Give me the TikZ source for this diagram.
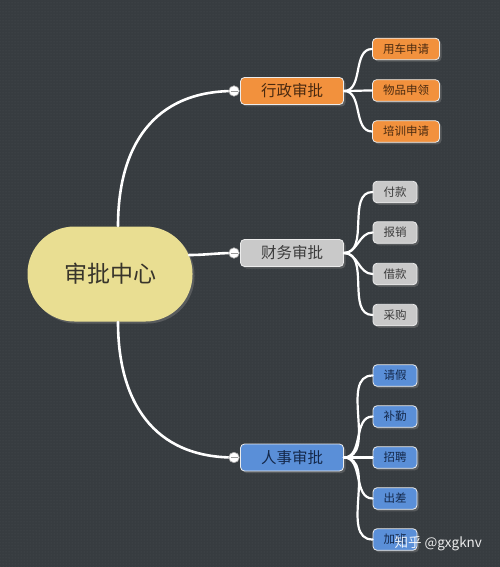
\documentclass[tikz,border=0pt]{standalone}
\usepackage{fontspec}
\setmainfont{Noto Sans CJK SC}
\usetikzlibrary{shadows,patterns}
\definecolor{bgc}{HTML}{373C40}
\definecolor{dotc}{HTML}{4A4F54}
\definecolor{orangec}{HTML}{F2913D}
\definecolor{greyc}{HTML}{C9C9C9}
\definecolor{bluec}{HTML}{5A8FD8}
\definecolor{centerc}{HTML}{E9DE92}
\definecolor{otext}{HTML}{4A2A10}
\definecolor{gtext}{HTML}{3C3C3C}
\definecolor{btext}{HTML}{14284A}
\tikzset{
  base/.style={draw=white!85!gray, line width=0.8pt, inner sep=0pt, align=center,
    drop shadow={opacity=0.45, shadow xshift=2pt, shadow yshift=-2pt}},
  centerbox/.style={base, draw=none, fill=centerc, minimum width=165pt, minimum height=95pt,
    rounded corners=47pt, font=\fontsize{23}{23}\selectfont, text=black!80!olive},
  branch/.style={base, minimum width=103pt, minimum height=27pt, rounded corners=4pt,
    font=\fontsize{15.5}{16}\selectfont},
  obranch/.style={branch, fill=orangec, text=otext},
  gbranch/.style={branch, fill=greyc, text=gtext},
  bbranch/.style={branch, fill=bluec, text=btext},
  leaf/.style={base, minimum height=21.5pt, rounded corners=4pt, font=\fontsize{11.5}{12}\selectfont},
  oleaf/.style={leaf, fill=orangec, text=otext, minimum width=67pt},
  gleaf/.style={leaf, fill=greyc, text=gtext, minimum width=44pt},
  bleaf/.style={leaf, fill=bluec, text=btext, minimum width=44pt},
  knob/.style={circle, fill=white, draw=gray!70, line width=0.6pt, minimum size=10.5pt, inner sep=0pt,
    path picture={\draw[gray!80, line width=0.8pt] ([xshift=-3.5pt]path picture bounding box.center) -- ([xshift=3.5pt]path picture bounding box.center);}},
  conn/.style={draw=white, line width=2.6pt, line cap=round},
  lconn/.style={draw=white, line width=2.2pt, line cap=round},
}
\begin{document}
\begin{tikzpicture}[x=1pt,y=-1pt]
\fill[bgc] (0,0) rectangle (500,567);
\fill[pattern=dots, pattern color=dotc] (0,0) rectangle (500,567);
\useasboundingbox (0,0) rectangle (500,567);

\node[centerbox] (c) at (110,274) {审批中心};
\node[obranch] (b1) at (292,91) {行政审批};
\node[gbranch] (b2) at (292,253) {财务审批};
\node[bbranch] (b3) at (292,457.5) {人事审批};
\coordinate (k1) at (234,91);
\coordinate (k2) at (234,253);
\coordinate (k3) at (234,457.5);

% leaves
\node[oleaf] (l11) at (406,49) {用车申请};
\node[oleaf] (l12) at (406,90.5) {物品申领};
\node[oleaf] (l13) at (406,131.5) {培训申请};
\node[gleaf] (l21) at (395,192) {付款};
\node[gleaf] (l22) at (395,232.5) {报销};
\node[gleaf] (l23) at (395,274) {借款};
\node[gleaf] (l24) at (395,315) {采购};
\node[bleaf] (l31) at (395,375.5) {请假};
\node[bleaf] (l32) at (395,416.5) {补勤};
\node[bleaf] (l33) at (395,457.5) {招聘};
\node[bleaf] (l34) at (395,498.5) {出差};
\node[bleaf] (l35) at (395,539.5) {加班};

% connectors
\draw[conn] ([xshift=8pt]c.north) to[out=90,in=180,looseness=1.15] (k1);
\draw[conn] ([yshift=19pt,xshift=-4pt]c.east) to[out=0,in=180] (k2);
\draw[conn] ([xshift=8pt]c.south) to[out=-90,in=180,looseness=1.15] (k3);
\node[knob] (n1) at (k1) {};
\node[knob] (n2) at (k2) {};
\node[knob] (n3) at (k3) {};

\foreach \l in {l11,l12,l13} \draw[lconn] (b1.east) to[out=0,in=180] (\l.west);
\foreach \l in {l21,l22,l23,l24} \draw[lconn] (b2.east) to[out=0,in=180] (\l.west);
\foreach \l in {l31,l32,l33,l34,l35} \draw[lconn] (b3.east) to[out=0,in=180] (\l.west);

% watermark
\node[text=white, opacity=0.9, font=\fontsize{13.5}{14}\selectfont, anchor=west] (wm) at (391,544) {知乎 @gxgknv};
\end{tikzpicture}
\end{document}
